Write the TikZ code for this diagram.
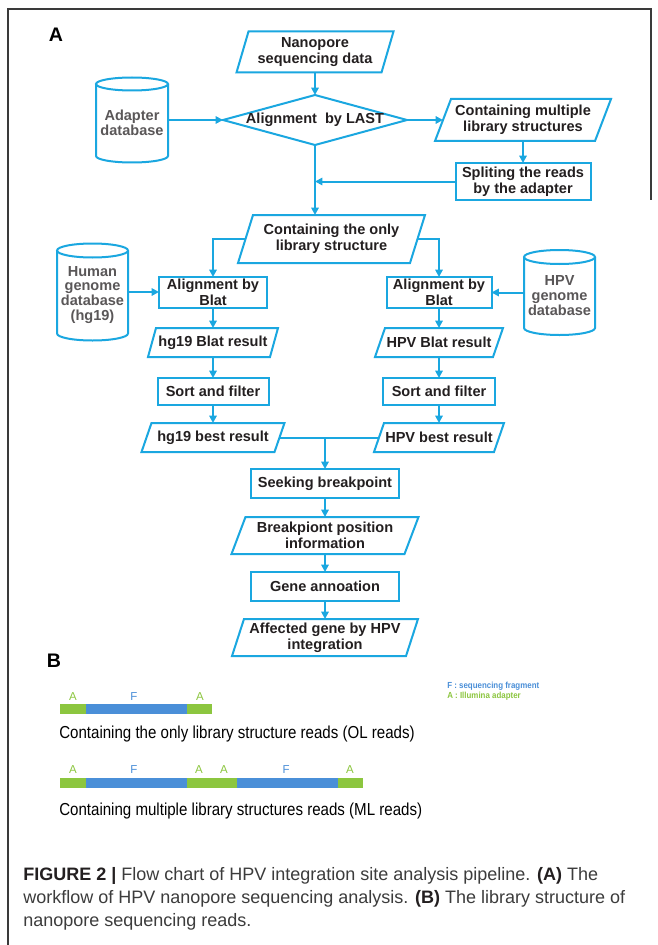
\documentclass[tikz,border=0pt]{standalone}
\usepackage{fontspec}
\setmainfont{Liberation Sans}
\newfontfamily\condfont[FakeStretch=0.87]{Liberation Sans}
\newfontfamily\legfont[FakeStretch=0.9]{Liberation Sans}
\usetikzlibrary{arrows.meta,calc}
\definecolor{flow}{HTML}{1AA7E0}
\definecolor{agreen}{HTML}{8CC63F}
\definecolor{fblue}{HTML}{4A8FD8}
\definecolor{ink}{HTML}{231F20}
\definecolor{frm}{HTML}{3A3A3A}
\definecolor{capgray}{HTML}{3C3C3C}
\def\u{0.75pt}
\tikzset{
  shp/.style={rectangle, inner sep=0pt, outer sep=0pt, draw=none},
  outl/.style={draw=flow, line width=1.5pt, line join=miter},
  conn/.style={draw=flow, line width=1.5pt},
  arr/.style={conn, -{Triangle[length=5.5pt, width=5.5pt]}},
  ft/.style={font=\bfseries\fontsize{10.9}{12}\selectfont, text=ink, align=center, inner sep=0pt},
  dbt/.style={font=\bfseries\fontsize{10.9}{11.2}\selectfont, text=ink!75, align=center, inner sep=0pt},
  panel/.style={font=\bfseries\fontsize{14.7}{16}\selectfont, text=black, inner sep=0pt},
  barlab/.style={font=\fontsize{8.6}{9}\selectfont, inner sep=0pt},
  readcap/.style={font=\condfont\fontsize{13}{15}\selectfont, text=black, anchor=west, inner sep=0pt},
  legtext/.style={font=\legfont\bfseries\fontsize{6.6}{7}\selectfont, anchor=west, inner sep=0pt},
  captext/.style={font=\fontsize{13.5}{15}\selectfont, text=capgray, anchor=west, inner sep=0pt}
}
% parallelogram: name, x, y, w, h, half-slant, text
\newcommand\pbox[7]{%
  \node[shp, minimum width=#4*\u, minimum height=#5*\u] (#1) at (#2,#3) {};
  \draw[outl] ($(#1.north west)+(#6,0)$) -- ($(#1.north east)+(#6,0)$) -- ($(#1.south east)-(#6,0)$) -- ($(#1.south west)-(#6,0)$) -- cycle;
  \node[ft] (#1t) at (#1) {#7};}
% rectangle: name, x, y, w, h, text
\newcommand\rbox[6]{%
  \node[shp, minimum width=#4*\u, minimum height=#5*\u] (#1) at (#2,#3) {};
  \draw[outl] (#1.north west) rectangle (#1.south east);
  \node[ft] (#1t) at (#1) {#6};}
% cylinder: name, x, y, w, h, ellipse half height, text
\newcommand\cyl[7]{%
  \node[shp, minimum width=#4*\u, minimum height=#5*\u] (#1) at (#2,#3) {};
  \draw[outl] ($(#1.north)+(0,#6)$) ellipse[x radius=#4/2, y radius=#6];
  \draw[outl] ($(#1.north west)+(0,#6)$) -- ($(#1.south west)-(0,#6)$) arc[start angle=180, end angle=0, x radius=#4/2, y radius=#6] -- ($(#1.north east)+(0,#6)$);
  \node[dbt] (#1t) at ($(#1)+(0,3)$) {#7};}
\begin{document}
\begin{tikzpicture}[x=0.75pt, y=-0.75pt]
\useasboundingbox (0,0) rectangle (657,945);
\fill[white] (0,0) rectangle (657,945);
% frame
\draw[frm, line width=1.1pt] (8,945) -- (8,9) -- (651,9) -- (651,200);

\node[panel] (labA) at (56,35) {A};

\pbox{nano}{315}{52}{145}{41}{6}{Nanopore\\sequencing data}
\node[shp, minimum width=184*\u, minimum height=50*\u] (dia) at (315,120) {};
\draw[outl] (dia.north) -- (dia.east) -- (dia.south) -- (dia.west) -- cycle;
\node[ft] (diat) at (dia) {Alignment~ by LAST};
\cyl{adb}{132}{120}{72}{85}{6.5}{Adapter\\database}
\pbox{cmls}{523}{120}{160}{42}{8}{Containing multiple\\library structures}
\rbox{split}{523}{181.5}{135}{37}{Spliting the reads\\by the adapter}
\pbox{only}{331.5}{239}{172}{48}{7.5}{Containing the only\\library structure}
\rbox{alL}{213}{292.5}{108}{31}{Alignment by\\Blat}
\rbox{alR}{439}{292.5}{105}{31}{Alignment by\\Blat}
\cyl{hdb}{92.5}{292}{71}{97}{7}{Human\\genome\\database\\(hg19)}
\cyl{vdb}{559.5}{292.5}{71}{85}{7}{HPV\\genome\\database}
\pbox{hbr}{213}{342.5}{122}{29}{4}{hg19 Blat result}
\pbox{vbr}{439}{342.5}{118}{29}{5}{HPV Blat result}
\rbox{sfL}{213}{391.5}{111}{27}{Sort and filter}
\rbox{sfR}{439}{391.5}{112}{27}{Sort and filter}
\pbox{hbest}{213}{437.5}{133}{29}{5}{hg19 best result}
\pbox{vbest}{439}{437.5}{120}{29}{5}{HPV best result}
\rbox{seek}{325}{483.5}{148}{29}{Seeking breakpoint}
\pbox{bpi}{325}{535.5}{173}{37}{7}{Breakpiont position\\information}
\rbox{gene}{325}{586.5}{148}{29}{Gene annoation}
\pbox{aff}{325}{637.5}{174}{37}{6}{Affected gene by HPV\\integration}

% connectors
\draw[arr] (nano.south) -- (nano.south |- dia.north);
\draw[arr] (adb.east) -- (dia.west);
\draw[arr] (dia.east) -- (cmls.west);
\draw[arr] (cmls.south) -- (split.north);
\coordinate (j1) at (dia.south |- split.west);
\draw[arr] (split.west) -- (j1);
\draw[arr] (dia.south) -- (dia.south |- only.north);
\draw[arr] (only.west) -| (alL.north);
\draw[arr] (only.east) -| (alR.north);
\draw[arr] (hdb.east) -- (hdb.east -| alL.west);
\draw[arr] (vdb.west) -- (vdb.west -| alR.east);
\draw[arr] (alL.south) -- (hbr.north);
\draw[arr] (alR.south) -- (vbr.north);
\draw[arr] (hbr.south) -- (sfL.north);
\draw[arr] (vbr.south) -- (sfR.north);
\draw[arr] (sfL.south) -- (hbest.north);
\draw[arr] (sfR.south) -- (vbest.north);
\draw[conn] (hbest.east) -- (vbest.west);
\coordinate (m) at (seek.north |- hbest.east);
\draw[arr] (m) -- (seek.north);
\draw[arr] (seek.south) -- (bpi.north);
\draw[arr] (bpi.south) -- (gene.north);
\draw[arr] (gene.south) -- (aff.north);

% part B
\node[panel] (labB) at (54,661) {B};
% OL read
\fill[agreen] (60,704) rectangle (86,714);
\fill[fblue] (86,704) rectangle (187,714);
\fill[agreen] (187,704) rectangle (212,714);
\node[barlab, text=agreen] (ol1) at (73,697) {A};
\node[barlab, text=fblue] (ol2) at (134,697) {F};
\node[barlab, text=agreen] (ol3) at (200,697) {A};
\node[readcap] (olcap) at (59,734) {Containing the only library structure reads (OL reads)};
% ML read
\fill[agreen] (60,778) rectangle (86,788);
\fill[fblue] (86,778) rectangle (187,788);
\fill[agreen] (187,778) rectangle (237,788);
\fill[fblue] (237,778) rectangle (338,788);
\fill[agreen] (338,778) rectangle (363,788);
\node[barlab, text=agreen] (ml1) at (73,770) {A};
\node[barlab, text=fblue] (ml2) at (134,770) {F};
\node[barlab, text=agreen] (ml3) at (199,770) {A};
\node[barlab, text=agreen] (ml4) at (224,770) {A};
\node[barlab, text=fblue] (ml5) at (286,770) {F};
\node[barlab, text=agreen] (ml6) at (350,770) {A};
\node[readcap] (mlcap) at (59,811) {Containing multiple library structures reads (ML reads)};
% legend
\node[legtext, text=fblue] (legF) at (447,686) {F : sequencing fragment};
\node[legtext, text=agreen] (legA) at (447,696) {A : Illumina adapter};

% caption
\node[captext] (cap1) at (23,876) {\textbf{\color{ink}FIGURE 2 |} Flow chart of HPV integration site analysis pipeline. \textbf{\color{ink}(A)} The};
\node[captext] (cap2) at (23,899) {workflow of HPV nanopore sequencing analysis. \textbf{\color{ink}(B)} The library structure of};
\node[captext] (cap3) at (23,922) {nanopore sequencing reads.};
\end{tikzpicture}
\end{document}
